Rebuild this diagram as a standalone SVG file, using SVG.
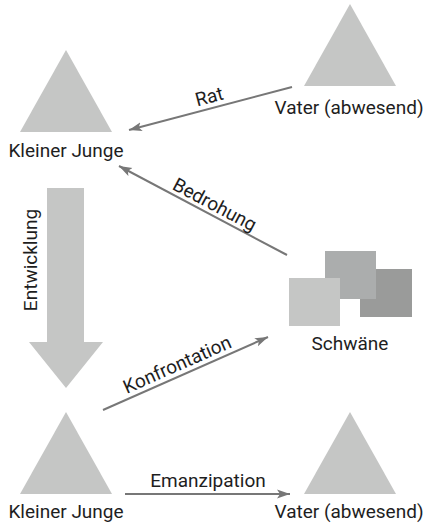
<svg xmlns="http://www.w3.org/2000/svg" width="425" height="528" viewBox="0 0 425 528">
<style>
.tri{fill:#c5c6c5}
.lbl{font-family:Roboto,"Liberation Sans",sans-serif;font-size:19px;fill:#1e1e1e;text-anchor:middle}
.con{stroke:#777777;stroke-width:2;fill:none;marker-end:url(#ah)}
</style>
<defs>
<marker id="ah" markerUnits="userSpaceOnUse" markerWidth="14" markerHeight="10" refX="13" refY="5" orient="auto">
<path d="M0,0.5 L13,5 L0,9.5 L3,5 z" fill="#777777"/>
</marker>
</defs>
<rect width="425" height="528" fill="#ffffff"/>
<g id="junge-oben">
<polygon class="tri" points="66,50 112,132 20,132"/>
<text class="lbl" x="66" y="157">Kleiner Junge</text>
</g>
<g id="vater-oben">
<polygon class="tri" points="350,4 396,86 304,86"/>
<text class="lbl" x="349" y="114">Vater (abwesend)</text>
</g>
<g id="schwaene">
<rect x="360" y="269" width="52" height="48" fill="#9a9b9a"/>
<rect x="325" y="251" width="51" height="48" fill="#abadad"/>
<rect x="289" y="278" width="51" height="48" fill="#c5c6c5"/>
<text class="lbl" x="350" y="350">Schwäne</text>
</g>
<g id="entwicklung">
<polygon class="tri" points="47,188 84,188 84,342 103,342 66,388 29,342 47,342"/>
<text class="lbl" transform="translate(37,260) rotate(-90)">Entwicklung</text>
</g>
<g id="junge-unten">
<polygon class="tri" points="66,412 112,494 20,494"/>
<text class="lbl" x="66" y="518">Kleiner Junge</text>
</g>
<g id="vater-unten">
<polygon class="tri" points="350,412 396,494 304,494"/>
<text class="lbl" x="349" y="518">Vater (abwesend)</text>
</g>
<g id="connectors">
<line class="con" x1="292" y1="87" x2="129" y2="130"/>
<text class="lbl" transform="translate(209,96) rotate(-14.8)" y="7">Rat</text>
<line class="con" x1="287" y1="255" x2="119" y2="166"/>
<text class="lbl" transform="translate(215,204) rotate(28)" y="7">Bedrohung</text>
<line class="con" x1="103" y1="410" x2="268" y2="337"/>
<text class="lbl" transform="translate(177,364) rotate(-23.9)" y="7">Konfrontation</text>
<line class="con" x1="125" y1="494" x2="290" y2="494"/>
<text class="lbl" x="208" y="487">Emanzipation</text>
</g>
</svg>
